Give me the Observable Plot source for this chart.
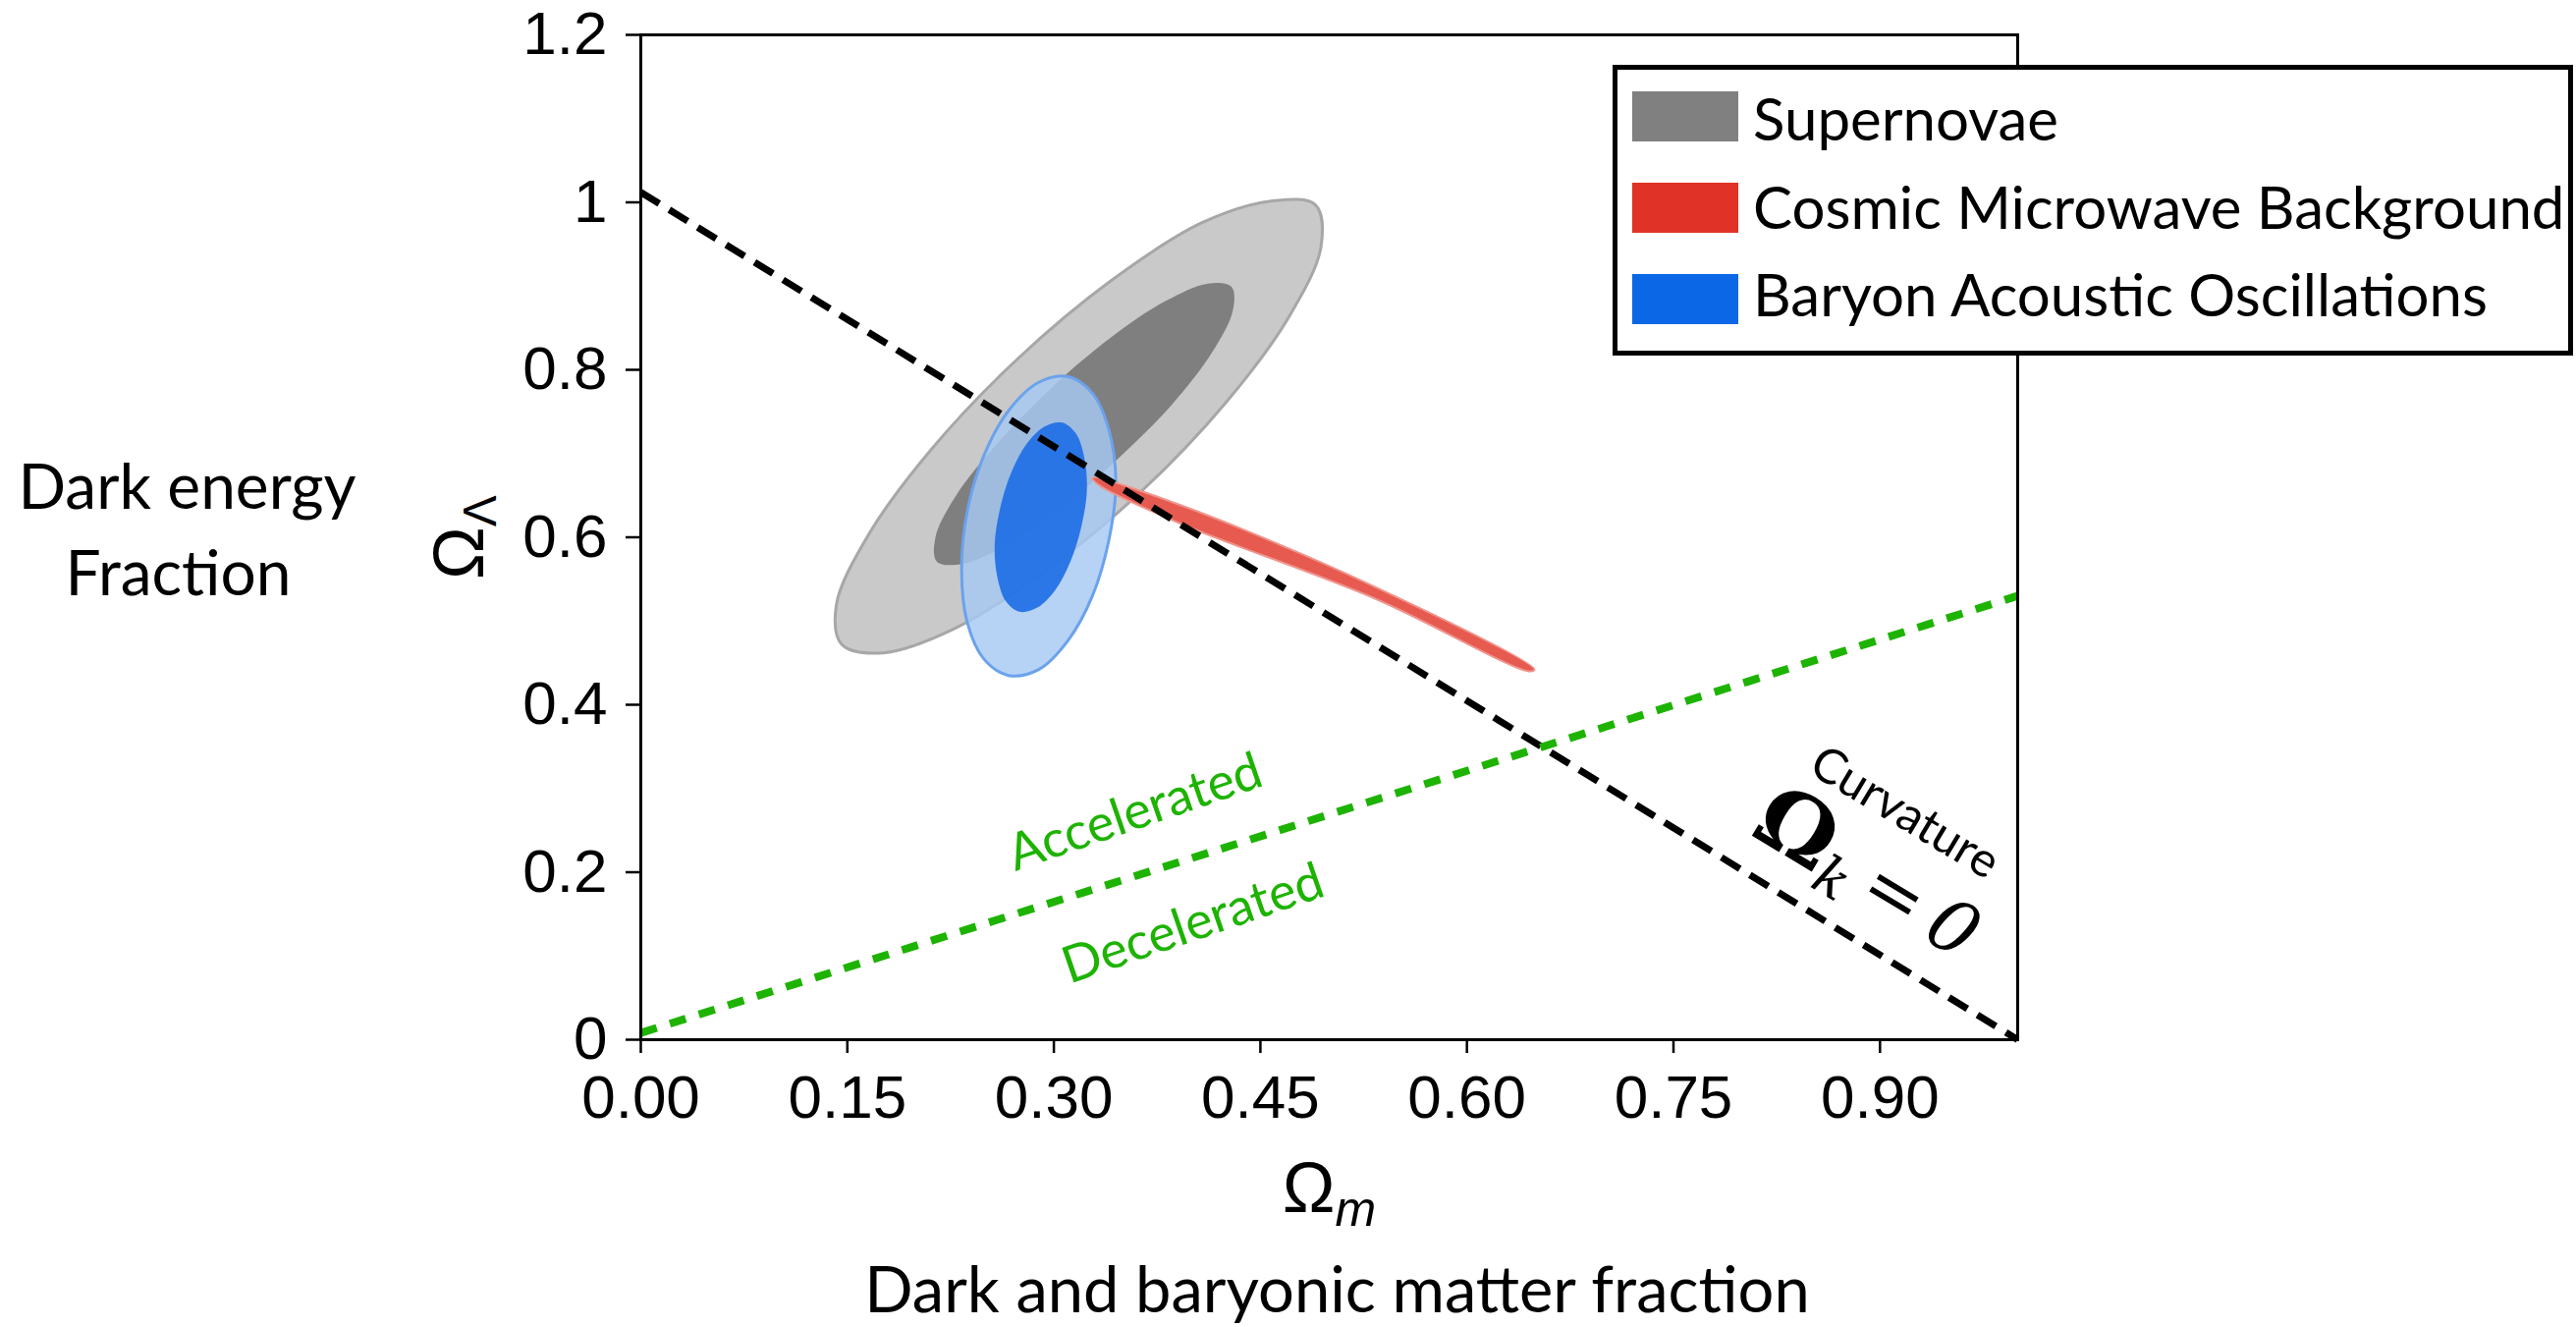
<!DOCTYPE html>
<html>
<head>
<meta charset="utf-8">
<script src="https://cdn.jsdelivr.net/npm/d3@7"></script>
<script src="https://cdn.jsdelivr.net/npm/@observablehq/plot@0.6"></script>
<style>
  html, body { margin: 0; padding: 0; background: #ffffff; }
  #chart { width: 2623px; height: 1351px; }
</style>
</head>
<body>
<div id="chart"></div>
<script>
// ---------------- data ----------------
const xTicks = [0, 0.15, 0.30, 0.45, 0.60, 0.75, 0.90];
const yTicks = [0, 0.2, 0.4, 0.6, 0.8, 1.0, 1.2];

// confidence contours, [Ωm, ΩΛ] outline points
const supernovaeOuter = [[0.490,0.997],[0.494,0.947],[0.471,0.864],[0.425,0.761],[0.363,0.654],[0.293,0.559],[0.228,0.491],[0.176,0.462],[0.146,0.472],[0.142,0.519],[0.165,0.602],[0.211,0.705],[0.273,0.812],[0.342,0.907],[0.408,0.976],[0.460,1.002]];
const supernovaeInner = [[0.429,0.899],[0.430,0.871],[0.415,0.821],[0.386,0.759],[0.346,0.693],[0.304,0.633],[0.264,0.589],[0.233,0.568],[0.215,0.571],[0.214,0.600],[0.229,0.650],[0.259,0.712],[0.298,0.778],[0.341,0.838],[0.381,0.882],[0.412,0.903]];
const baoOuter = [[0.310,0.792],[0.328,0.772],[0.340,0.728],[0.345,0.666],[0.340,0.597],[0.328,0.530],[0.310,0.476],[0.289,0.442],[0.267,0.435],[0.249,0.455],[0.237,0.499],[0.233,0.561],[0.237,0.630],[0.249,0.697],[0.267,0.751],[0.289,0.785]];
const baoInner = [[0.306,0.737],[0.316,0.724],[0.322,0.696],[0.324,0.657],[0.320,0.613],[0.312,0.571],[0.301,0.537],[0.288,0.516],[0.275,0.511],[0.265,0.524],[0.259,0.552],[0.257,0.591],[0.261,0.635],[0.269,0.677],[0.280,0.711],[0.293,0.732]];
const cmbContour = [[0.328,0.671],[0.391,0.639],[0.533,0.541],[0.649,0.442],[0.645,0.440],[0.533,0.527],[0.391,0.617],[0.333,0.662]];

// reference lines
const flatLine = [[0, 1.012], [1.0, 0]];      // Ω_k = 0
const accelLine = [[0, 0.008], [1.0, 0.53]];  // accelerated / decelerated boundary

// annotations
const greenNotes = ["Accelerated", "Decelerated"];
const greenNoteX = [0.359, 0.401];
const greenNoteY = [0.271, 0.138];
const greenNoteAngle = [-19, -19];
const curvNote = ["Curvature"];
const curvNoteX = [0.918];
const curvNoteY = [0.271];
const curvNoteAngle = [31];
const omegaKNote = ["Ω_k = 0"];
const omegaKX = [0.890];
const omegaKY = [0.194];
const omegaKAngle = [31];

// axis titles
const xSymbol = "Ω_m";
const ySymbol = "Ω_Λ";
const xTitle = "Dark and baryonic matter fraction";
const yTitleLines = ["Dark energy", "Fraction"];

// legend
const legendLabels = ["Supernovae", "Cosmic Microwave Background", "Baryon Acoustic Oscillations"];
const legendColors = ["#808080", "#e03226", "#0b67e6"];

// ---------------- chart ----------------
const px = d => d[0], py = d => d[1];
const notes = (t, xs, ys, as) => t.map((s, i) => ({t: s, x: xs[i], y: ys[i], a: as[i]}));
const GREEN = "#1db300";

const plot = Plot.plot({
  width: 2623,
  height: 1351,
  marginLeft: 652,
  marginRight: 569,
  marginTop: 35,
  marginBottom: 293,
  style: {fontFamily: "'Liberation Sans', Arial, sans-serif", fontSize: "62px", color: "#000", background: "#fff"},
  x: {domain: [0, 1]},
  y: {domain: [0, 1.2]},
  marks: [
    Plot.line(supernovaeOuter, {x: px, y: py, curve: "catmull-rom-closed", fill: "#c9c9c9", stroke: "#a7a7a7", strokeWidth: 3}),
    Plot.line(supernovaeInner, {x: px, y: py, curve: "catmull-rom-closed", fill: "#7f7f7f", stroke: "none"}),
    Plot.line(baoOuter, {x: px, y: py, curve: "catmull-rom-closed", fill: "#a6c9f4", fillOpacity: 0.82, stroke: "#6ba2ec", strokeWidth: 3}),
    Plot.line(baoInner, {x: px, y: py, curve: "catmull-rom-closed", fill: "#1f6fe5", fillOpacity: 0.92, stroke: "none"}),
    Plot.line(cmbContour, {x: px, y: py, curve: "catmull-rom-closed", fill: "#e65a50", stroke: "#f0948c", strokeWidth: 2}),
    Plot.line(flatLine, {x: px, y: py, stroke: "#000", strokeWidth: 7, strokeDasharray: "22,12", strokeLinecap: "butt"}),
    Plot.line(accelLine, {x: px, y: py, stroke: GREEN, strokeWidth: 8, strokeDasharray: "17,14", strokeLinecap: "butt"}),
    Plot.text(notes(greenNotes, greenNoteX, greenNoteY, greenNoteAngle), {x: "x", y: "y", text: "t", rotate: "a", fill: GREEN, fontFamily: "Lato", fontSize: 52, textAnchor: "middle", lineAnchor: "middle"}),
    Plot.text(notes(curvNote, curvNoteX, curvNoteY, curvNoteAngle), {x: "x", y: "y", text: "t", rotate: "a", fill: "#000", fontFamily: "Lato", fontSize: 49, textAnchor: "middle", lineAnchor: "middle"}),
    Plot.text(notes(omegaKNote, omegaKX, omegaKY, omegaKAngle), {x: "x", y: "y", text: "t", rotate: "a", fill: "#000", fontFamily: "'DejaVu Serif', serif", fontSize: 74, textAnchor: "middle", lineAnchor: "middle"}),
    Plot.frame({stroke: "#000", strokeWidth: 3}),
    Plot.axisX({ticks: xTicks, tickFormat: d3.format(".2f"), tickSize: 14, tickPadding: 21, strokeWidth: 2.5, label: null}),
    Plot.axisY({ticks: yTicks, tickFormat: d3.format("~g"), tickSize: 15, tickPadding: 19, strokeWidth: 2.5, label: null}),
    Plot.text([xSymbol], {text: d => d, frameAnchor: "bottom", dy: 175, textAnchor: "middle", lineAnchor: "bottom", fontSize: 72}),
    Plot.text([ySymbol], {text: d => d, frameAnchor: "left", dx: -161, rotate: -90, textAnchor: "middle", lineAnchor: "bottom", fontSize: 72}),
    Plot.text([xTitle], {text: d => d, frameAnchor: "bottom", dx: 8, dy: 277, textAnchor: "middle", lineAnchor: "bottom", fontFamily: "Lato", fontSize: 65}),
    Plot.text([yTitleLines[0]], {text: d => d, frameAnchor: "left", dx: -462, dy: -29.5, textAnchor: "middle", lineAnchor: "bottom", fontFamily: "Lato", fontSize: 64}),
    Plot.text([yTitleLines[1]], {text: d => d, frameAnchor: "left", dx: -471, dy: 58.5, textAnchor: "middle", lineAnchor: "bottom", fontFamily: "Lato", fontSize: 64})
  ]
});

// rich text (subscripts)
const SVGNS = "http://www.w3.org/2000/svg";
function setRich(el, parts) {
  el.textContent = "";
  for (const p of parts) {
    const t = document.createElementNS(SVGNS, "tspan");
    t.textContent = p.t;
    if (p.dy != null) t.setAttribute("dy", p.dy);
    if (p.style) t.setAttribute("style", p.style);
    el.appendChild(t);
  }
}
plot.querySelectorAll("text").forEach(el => {
  const s = el.textContent;
  if (s === xSymbol) setRich(el, [{t: "Ω"}, {t: "m", dy: 14, style: "font-style:italic;font-size:50px"}]);
  else if (s === ySymbol) setRich(el, [{t: "Ω"}, {t: "Λ", dy: 13, style: "font-size:48px"}]);
  else if (s === omegaKNote[0]) setRich(el, [
    {t: "Ω", style: "font-weight:bold;font-size:90px"},
    {t: "k", dy: 14, style: "font-style:italic;font-size:55px"},
    {t: "\u2009=\u2009", dy: -14},
    {t: "0", style: "font-style:italic"}
  ]);
});

// legend box
const svg = d3.select(plot);
const lg = svg.append("g").attr("font-family", "Lato").attr("font-size", 60).attr("text-anchor", "start");
lg.append("rect").attr("x", 1644.5).attr("y", 68.5).attr("width", 973).attr("height", 291)
  .attr("fill", "#fff").attr("stroke", "#000").attr("stroke-width", 5);
const swatchTop = [93, 186, 279];
const textBase = [143, 233, 322];
legendLabels.forEach((lab, i) => {
  lg.append("rect").attr("x", 1662).attr("y", swatchTop[i]).attr("width", 108).attr("height", 51).attr("fill", legendColors[i]);
  lg.append("text").attr("x", 1785).attr("y", textBase[i]).attr("fill", "#000").attr("text-anchor", "start").text(lab);
});

document.getElementById("chart").appendChild(plot);
</script>
</body>
</html>
